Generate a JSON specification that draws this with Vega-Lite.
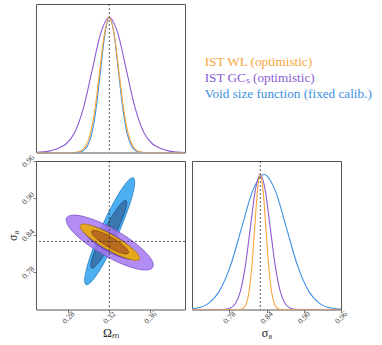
{
"$schema": "https://vega.github.io/schema/vega-lite/v6.json",
"background": "white",
"padding": {"left": 5, "top": 3, "right": 0, "bottom": 0},
"config": {
 "view": {"stroke": "#555", "strokeWidth": 1},
 "axis": {"labelFont": "Liberation Serif", "labelFontSize": 8, "labelAngle": -45, "labelAlign": "center", "labelBaseline": "middle", "labelColor": "#444", "labelPadding": 5, "labelFlush": false, "labelOverlap": false, "tickColor": "#555", "tickSize": 3, "tickWidth": 0.8, "domain": false, "grid": false, "titleFont": "Liberation Serif", "titleFontSize": 12, "titleFontWeight": "normal", "titleColor": "#222"},
 "axisX": {"titlePadding": 2},
 "axisY": {"titlePadding": 1}
},
"datasets": {
 "fid": [{"om": 0.32, "s8": 0.83}],
 "legend": [
  {"label": "IST WL (optimistic)", "rank": 0},
  {"label": "IST GCₛ (optimistic)", "rank": 1},
  {"label": "Void size function (fixed calib.)", "rank": 2}
 ],
 "ell": [
  {"g":"b2","i":0,"om":0.3434,"s8":0.9329},{"g":"b2","i":1,"om":0.3448,"s8":0.9241},{"g":"b2","i":2,"om":0.3424,"s8":0.9034},{"g":"b2","i":3,"om":0.3366,"s8":0.8742},{"g":"b2","i":4,"om":0.3284,"s8":0.8406},{"g":"b2","i":5,"om":0.3190,"s8":0.8079},{"g":"b2","i":6,"om":0.3098,"s8":0.7812},{"g":"b2","i":7,"om":0.3022,"s8":0.7644},{"g":"b2","i":8,"om":0.2974,"s8":0.7601},{"g":"b2","i":9,"om":0.2960,"s8":0.7689},{"g":"b2","i":10,"om":0.2984,"s8":0.7896},{"g":"b2","i":11,"om":0.3042,"s8":0.8189},{"g":"b2","i":12,"om":0.3124,"s8":0.8524},{"g":"b2","i":13,"om":0.3218,"s8":0.8851},{"g":"b2","i":14,"om":0.3310,"s8":0.9118},{"g":"b2","i":15,"om":0.3386,"s8":0.9286},
  {"g":"b1","i":0,"om":0.3362,"s8":0.8962},{"g":"b1","i":1,"om":0.3370,"s8":0.8904},{"g":"b1","i":2,"om":0.3350,"s8":0.8771},{"g":"b1","i":3,"om":0.3307,"s8":0.8584},{"g":"b1","i":4,"om":0.3247,"s8":0.8372},{"g":"b1","i":5,"om":0.3179,"s8":0.8166},{"g":"b1","i":6,"om":0.3114,"s8":0.7999},{"g":"b1","i":7,"om":0.3060,"s8":0.7895},{"g":"b1","i":8,"om":0.3028,"s8":0.7870},{"g":"b1","i":9,"om":0.3020,"s8":0.7928},{"g":"b1","i":10,"om":0.3040,"s8":0.8061},{"g":"b1","i":11,"om":0.3083,"s8":0.8248},{"g":"b1","i":12,"om":0.3143,"s8":0.8460},{"g":"b1","i":13,"om":0.3211,"s8":0.8666},{"g":"b1","i":14,"om":0.3277,"s8":0.8833},{"g":"b1","i":15,"om":0.3330,"s8":0.8937},
  {"g":"p2","i":0,"om":0.3624,"s8":0.7882},{"g":"p2","i":1,"om":0.3567,"s8":0.7839},{"g":"p2","i":2,"om":0.3454,"s8":0.7863},{"g":"p2","i":3,"om":0.3303,"s8":0.7951},{"g":"p2","i":4,"om":0.3138,"s8":0.8089},{"g":"p2","i":5,"om":0.2982,"s8":0.8257},{"g":"p2","i":6,"om":0.2860,"s8":0.8428},{"g":"p2","i":7,"om":0.2791,"s8":0.8578},{"g":"p2","i":8,"om":0.2784,"s8":0.8682},{"g":"p2","i":9,"om":0.2842,"s8":0.8725},{"g":"p2","i":10,"om":0.2954,"s8":0.8701},{"g":"p2","i":11,"om":0.3105,"s8":0.8613},{"g":"p2","i":12,"om":0.3270,"s8":0.8475},{"g":"p2","i":13,"om":0.3426,"s8":0.8307},{"g":"p2","i":14,"om":0.3548,"s8":0.8136},{"g":"p2","i":15,"om":0.3618,"s8":0.7986},
  {"g":"p1","i":0,"om":0.3463,"s8":0.8036},{"g":"p1","i":1,"om":0.3427,"s8":0.8009},{"g":"p1","i":2,"om":0.3358,"s8":0.8024},{"g":"p1","i":3,"om":0.3265,"s8":0.8078},{"g":"p1","i":4,"om":0.3163,"s8":0.8163},{"g":"p1","i":5,"om":0.3067,"s8":0.8267},{"g":"p1","i":6,"om":0.2992,"s8":0.8372},{"g":"p1","i":7,"om":0.2949,"s8":0.8464},{"g":"p1","i":8,"om":0.2945,"s8":0.8528},{"g":"p1","i":9,"om":0.2981,"s8":0.8555},{"g":"p1","i":10,"om":0.3050,"s8":0.8540},{"g":"p1","i":11,"om":0.3143,"s8":0.8486},{"g":"p1","i":12,"om":0.3245,"s8":0.8401},{"g":"p1","i":13,"om":0.3341,"s8":0.8297},{"g":"p1","i":14,"om":0.3416,"s8":0.8192},{"g":"p1","i":15,"om":0.3459,"s8":0.8100},
  {"g":"o2","i":0,"om":0.3494,"s8":0.8013},{"g":"o2","i":1,"om":0.3458,"s8":0.7993},{"g":"o2","i":2,"om":0.3384,"s8":0.8019},{"g":"o2","i":3,"om":0.3283,"s8":0.8085},{"g":"o2","i":4,"om":0.3170,"s8":0.8181},{"g":"o2","i":5,"om":0.3062,"s8":0.8295},{"g":"o2","i":6,"om":0.2977,"s8":0.8406},{"g":"o2","i":7,"om":0.2926,"s8":0.8500},{"g":"o2","i":8,"om":0.2918,"s8":0.8561},{"g":"o2","i":9,"om":0.2954,"s8":0.8581},{"g":"o2","i":10,"om":0.3028,"s8":0.8555},{"g":"o2","i":11,"om":0.3129,"s8":0.8490},{"g":"o2","i":12,"om":0.3242,"s8":0.8393},{"g":"o2","i":13,"om":0.3350,"s8":0.8280},{"g":"o2","i":14,"om":0.3435,"s8":0.8168},{"g":"o2","i":15,"om":0.3486,"s8":0.8074},
  {"g":"o1","i":0,"om":0.3386,"s8":0.8112},{"g":"o1","i":1,"om":0.3363,"s8":0.8098},{"g":"o1","i":2,"om":0.3316,"s8":0.8114},{"g":"o1","i":3,"om":0.3253,"s8":0.8156},{"g":"o1","i":4,"om":0.3182,"s8":0.8218},{"g":"o1","i":5,"om":0.3116,"s8":0.8291},{"g":"o1","i":6,"om":0.3063,"s8":0.8363},{"g":"o1","i":7,"om":0.3032,"s8":0.8424},{"g":"o1","i":8,"om":0.3028,"s8":0.8464},{"g":"o1","i":9,"om":0.3051,"s8":0.8478},{"g":"o1","i":10,"om":0.3098,"s8":0.8462},{"g":"o1","i":11,"om":0.3162,"s8":0.8420},{"g":"o1","i":12,"om":0.3232,"s8":0.8358},{"g":"o1","i":13,"om":0.3299,"s8":0.8285},{"g":"o1","i":14,"om":0.3351,"s8":0.8213},{"g":"o1","i":15,"om":0.3382,"s8":0.8152}
 ],
 "om1d": [
  {"s":"o","om":0.2485,"p":0},{"s":"o","om":0.2828,"p":0.0003},{"s":"o","om":0.28745,"p":0.0022},{"s":"o","om":0.2921,"p":0.0111},{"s":"o","om":0.29675,"p":0.0439},{"s":"o","om":0.3014,"p":0.1353},{"s":"o","om":0.30605,"p":0.3247},{"s":"o","om":0.3107,"p":0.6065},{"s":"o","om":0.31535,"p":0.8825},{"s":"o","om":0.3200,"p":1},{"s":"o","om":0.32465,"p":0.8825},{"s":"o","om":0.3293,"p":0.6065},{"s":"o","om":0.33395,"p":0.3247},{"s":"o","om":0.3386,"p":0.1353},{"s":"o","om":0.34325,"p":0.0439},{"s":"o","om":0.3479,"p":0.0111},{"s":"o","om":0.35255,"p":0.0022},{"s":"o","om":0.3572,"p":0.0003},{"s":"o","om":0.3939,"p":0},
  {"s":"b","om":0.2485,"p":0},{"s":"b","om":0.2854,"p":0.0003},{"s":"b","om":0.28975,"p":0.0022},{"s":"b","om":0.2941,"p":0.0111},{"s":"b","om":0.29845,"p":0.0439},{"s":"b","om":0.3028,"p":0.1353},{"s":"b","om":0.30715,"p":0.3247},{"s":"b","om":0.3115,"p":0.6065},{"s":"b","om":0.31585,"p":0.8825},{"s":"b","om":0.3202,"p":1},{"s":"b","om":0.32455,"p":0.8825},{"s":"b","om":0.3289,"p":0.6065},{"s":"b","om":0.33325,"p":0.3247},{"s":"b","om":0.3376,"p":0.1353},{"s":"b","om":0.34195,"p":0.0439},{"s":"b","om":0.3463,"p":0.0111},{"s":"b","om":0.35065,"p":0.0022},{"s":"b","om":0.355,"p":0.0003},{"s":"b","om":0.3939,"p":0},
  {"s":"p","om":0.2485,"p":0},{"s":"p","om":0.2528,"p":0.003},{"s":"p","om":0.2612,"p":0.01},{"s":"p","om":0.2696,"p":0.03},{"s":"p","om":0.2780,"p":0.065},{"s":"p","om":0.2864,"p":0.15},{"s":"p","om":0.2948,"p":0.33},{"s":"p","om":0.3032,"p":0.6065},{"s":"p","om":0.3116,"p":0.8825},{"s":"p","om":0.3200,"p":1},{"s":"p","om":0.3284,"p":0.8825},{"s":"p","om":0.3368,"p":0.6065},{"s":"p","om":0.3452,"p":0.33},{"s":"p","om":0.3536,"p":0.15},{"s":"p","om":0.3620,"p":0.065},{"s":"p","om":0.3704,"p":0.03},{"s":"p","om":0.3788,"p":0.01},{"s":"p","om":0.3872,"p":0.003},{"s":"p","om":0.3939,"p":0}
 ],
 "s81d": [
  {"s":"o","s8":0.72,"p":0},{"s":"o","s8":0.794,"p":0.0003},{"s":"o","s8":0.7985,"p":0.0022},{"s":"o","s8":0.803,"p":0.0111},{"s":"o","s8":0.8075,"p":0.0439},{"s":"o","s8":0.812,"p":0.1353},{"s":"o","s8":0.8165,"p":0.3247},{"s":"o","s8":0.821,"p":0.6065},{"s":"o","s8":0.8255,"p":0.8825},{"s":"o","s8":0.830,"p":1},{"s":"o","s8":0.8345,"p":0.8825},{"s":"o","s8":0.839,"p":0.6065},{"s":"o","s8":0.8435,"p":0.3247},{"s":"o","s8":0.848,"p":0.1353},{"s":"o","s8":0.8525,"p":0.0439},{"s":"o","s8":0.857,"p":0.0111},{"s":"o","s8":0.8615,"p":0.0022},{"s":"o","s8":0.866,"p":0.0003},{"s":"o","s8":0.96,"p":0},
  {"s":"p","s8":0.72,"p":0},{"s":"p","s8":0.766,"p":0.0003},{"s":"p","s8":0.774,"p":0.0022},{"s":"p","s8":0.782,"p":0.0111},{"s":"p","s8":0.790,"p":0.0439},{"s":"p","s8":0.798,"p":0.1353},{"s":"p","s8":0.806,"p":0.3247},{"s":"p","s8":0.814,"p":0.6065},{"s":"p","s8":0.822,"p":0.8825},{"s":"p","s8":0.830,"p":1},{"s":"p","s8":0.838,"p":0.8825},{"s":"p","s8":0.846,"p":0.6065},{"s":"p","s8":0.854,"p":0.3247},{"s":"p","s8":0.862,"p":0.1353},{"s":"p","s8":0.870,"p":0.0439},{"s":"p","s8":0.878,"p":0.0111},{"s":"p","s8":0.886,"p":0.0022},{"s":"p","s8":0.894,"p":0.0003},{"s":"p","s8":0.96,"p":0},
  {"s":"b","s8":0.692,"p":0.0003},{"s":"b","s8":0.710,"p":0.0022},{"s":"b","s8":0.728,"p":0.0111},{"s":"b","s8":0.746,"p":0.0439},{"s":"b","s8":0.764,"p":0.1353},{"s":"b","s8":0.782,"p":0.3247},{"s":"b","s8":0.800,"p":0.6065},{"s":"b","s8":0.818,"p":0.8825},{"s":"b","s8":0.836,"p":1},{"s":"b","s8":0.854,"p":0.8825},{"s":"b","s8":0.872,"p":0.6065},{"s":"b","s8":0.890,"p":0.3247},{"s":"b","s8":0.908,"p":0.1353},{"s":"b","s8":0.926,"p":0.0439},{"s":"b","s8":0.944,"p":0.0111},{"s":"b","s8":0.962,"p":0.0022},{"s":"b","s8":0.980,"p":0.0003}
 ]
},
"columns": 2,
"spacing": {"row": 8, "column": 7},
"bounds": "flush",
"align": "all",
"concat": [
 {
  "width": 149, "height": 148.5,
  "layer": [
   {"data": {"name": "om1d"}, "transform": [{"filter": "datum.s === 'b'"}], "mark": {"type": "line", "interpolate": "monotone", "clip": true, "stroke": "#3a8fe2", "strokeWidth": 1.1},
    "encoding": {"x": {"field": "om", "type": "quantitative", "scale": {"domain": [0.2485, 0.3939], "nice": false, "zero": false}, "axis": null}, "y": {"field": "p", "type": "quantitative", "scale": {"domain": [0, 1.1], "nice": false, "zero": false}, "axis": null}}},
   {"data": {"name": "om1d"}, "transform": [{"filter": "datum.s === 'p'"}], "mark": {"type": "line", "interpolate": "monotone", "clip": true, "stroke": "#8c5ad5", "strokeWidth": 1.1},
    "encoding": {"x": {"field": "om", "type": "quantitative", "scale": {"domain": [0.2485, 0.3939], "nice": false, "zero": false}, "axis": null}, "y": {"field": "p", "type": "quantitative", "scale": {"domain": [0, 1.1], "nice": false, "zero": false}, "axis": null}}},
   {"data": {"name": "om1d"}, "transform": [{"filter": "datum.s === 'o'"}], "mark": {"type": "line", "interpolate": "monotone", "clip": true, "stroke": "#f9a53a", "strokeWidth": 1.1},
    "encoding": {"x": {"field": "om", "type": "quantitative", "scale": {"domain": [0.2485, 0.3939], "nice": false, "zero": false}, "axis": null}, "y": {"field": "p", "type": "quantitative", "scale": {"domain": [0, 1.1], "nice": false, "zero": false}, "axis": null}}},
   {"data": {"name": "fid"}, "mark": {"type": "rule", "stroke": "#333", "strokeWidth": 0.8, "strokeDash": [2, 2]},
    "encoding": {"x": {"field": "om", "type": "quantitative", "scale": {"domain": [0.2485, 0.3939], "nice": false, "zero": false}, "axis": null}}}
  ]
 },
 {
  "width": 149, "height": 148.5,
  "view": {"stroke": null},
  "data": {"name": "legend"},
  "mark": {"type": "text", "align": "left", "baseline": "middle", "font": "Liberation Serif", "fontSize": 13.2},
  "encoding": {
   "x": {"datum": 0.085, "type": "quantitative", "scale": {"domain": [0, 1], "nice": false, "zero": false}, "axis": null},
   "y": {"field": "rank", "type": "quantitative", "scale": {"domain": [-3.7, 5.73], "reverse": true, "nice": false, "zero": false}, "axis": null},
   "text": {"field": "label"},
   "color": {"field": "label", "type": "nominal", "scale": {"domain": ["IST WL (optimistic)", "IST GCₛ (optimistic)", "Void size function (fixed calib.)"], "range": ["#f9a53a", "#8c5ad5", "#3a8fe2"]}, "legend": null}
  }
 },
 {
  "width": 149, "height": 148.5,
  "layer": [
   {"data": {"name": "ell"}, "transform": [{"filter": "datum.g === 'b2'"}], "mark": {"type": "line", "interpolate": "cardinal-closed", "clip": true, "fill": "#4caff2", "stroke": "#2a7fc0", "strokeWidth": 0.8},
    "encoding": {"x": {"field": "om", "type": "quantitative", "scale": {"domain": [0.2485, 0.3939], "nice": false, "zero": false}, "axis": {"values": [0.28, 0.32, 0.36], "format": ".2f", "title": "Ωₘ"}}, "y": {"field": "s8", "type": "quantitative", "scale": {"domain": [0.72, 0.96], "nice": false, "zero": false}, "axis": {"values": [0.78, 0.84, 0.90, 0.96], "format": ".2f", "title": "σ₈"}}, "order": {"field": "i", "type": "quantitative"}}},
   {"data": {"name": "ell"}, "transform": [{"filter": "datum.g === 'b1'"}], "mark": {"type": "line", "interpolate": "cardinal-closed", "clip": true, "fill": "#3a77b0", "stroke": "#1d4e80", "strokeWidth": 0.8},
    "encoding": {"x": {"field": "om", "type": "quantitative", "scale": {"domain": [0.2485, 0.3939], "nice": false, "zero": false}, "axis": {"values": [0.28, 0.32, 0.36], "format": ".2f", "title": "Ωₘ"}}, "y": {"field": "s8", "type": "quantitative", "scale": {"domain": [0.72, 0.96], "nice": false, "zero": false}, "axis": {"values": [0.78, 0.84, 0.90, 0.96], "format": ".2f", "title": "σ₈"}}, "order": {"field": "i", "type": "quantitative"}}},
   {"data": {"name": "ell"}, "transform": [{"filter": "datum.g === 'p2'"}], "mark": {"type": "line", "interpolate": "cardinal-closed", "clip": true, "fill": "#a678f2", "fillOpacity": 0.85, "stroke": "#7a4fcc", "strokeWidth": 0.8},
    "encoding": {"x": {"field": "om", "type": "quantitative", "scale": {"domain": [0.2485, 0.3939], "nice": false, "zero": false}, "axis": {"values": [0.28, 0.32, 0.36], "format": ".2f", "title": "Ωₘ"}}, "y": {"field": "s8", "type": "quantitative", "scale": {"domain": [0.72, 0.96], "nice": false, "zero": false}, "axis": {"values": [0.78, 0.84, 0.90, 0.96], "format": ".2f", "title": "σ₈"}}, "order": {"field": "i", "type": "quantitative"}}},
   {"data": {"name": "ell"}, "transform": [{"filter": "datum.g === 'p1'"}], "mark": {"type": "line", "interpolate": "cardinal-closed", "clip": true, "fill": "#7c50cf", "fillOpacity": 0.75, "stroke": "#5a34a8", "strokeWidth": 0.8},
    "encoding": {"x": {"field": "om", "type": "quantitative", "scale": {"domain": [0.2485, 0.3939], "nice": false, "zero": false}, "axis": {"values": [0.28, 0.32, 0.36], "format": ".2f", "title": "Ωₘ"}}, "y": {"field": "s8", "type": "quantitative", "scale": {"domain": [0.72, 0.96], "nice": false, "zero": false}, "axis": {"values": [0.78, 0.84, 0.90, 0.96], "format": ".2f", "title": "σ₈"}}, "order": {"field": "i", "type": "quantitative"}}},
   {"data": {"name": "ell"}, "transform": [{"filter": "datum.g === 'o2'"}], "mark": {"type": "line", "interpolate": "cardinal-closed", "clip": true, "fill": "#e6a81e", "stroke": "#b07810", "strokeWidth": 0.8},
    "encoding": {"x": {"field": "om", "type": "quantitative", "scale": {"domain": [0.2485, 0.3939], "nice": false, "zero": false}, "axis": {"values": [0.28, 0.32, 0.36], "format": ".2f", "title": "Ωₘ"}}, "y": {"field": "s8", "type": "quantitative", "scale": {"domain": [0.72, 0.96], "nice": false, "zero": false}, "axis": {"values": [0.78, 0.84, 0.90, 0.96], "format": ".2f", "title": "σ₈"}}, "order": {"field": "i", "type": "quantitative"}}},
   {"data": {"name": "ell"}, "transform": [{"filter": "datum.g === 'o1'"}], "mark": {"type": "line", "interpolate": "cardinal-closed", "clip": true, "fill": "#b86a1e", "stroke": "#8a4a10", "strokeWidth": 0.8},
    "encoding": {"x": {"field": "om", "type": "quantitative", "scale": {"domain": [0.2485, 0.3939], "nice": false, "zero": false}, "axis": {"values": [0.28, 0.32, 0.36], "format": ".2f", "title": "Ωₘ"}}, "y": {"field": "s8", "type": "quantitative", "scale": {"domain": [0.72, 0.96], "nice": false, "zero": false}, "axis": {"values": [0.78, 0.84, 0.90, 0.96], "format": ".2f", "title": "σ₈"}}, "order": {"field": "i", "type": "quantitative"}}},
   {"data": {"name": "fid"}, "mark": {"type": "rule", "stroke": "#333", "strokeWidth": 0.8, "strokeDash": [2, 2]},
    "encoding": {"x": {"field": "om", "type": "quantitative", "scale": {"domain": [0.2485, 0.3939], "nice": false, "zero": false}, "axis": {"values": [0.28, 0.32, 0.36], "format": ".2f", "title": "Ωₘ"}}}},
   {"data": {"name": "fid"}, "mark": {"type": "rule", "stroke": "#333", "strokeWidth": 0.8, "strokeDash": [2, 2]},
    "encoding": {"y": {"field": "s8", "type": "quantitative", "scale": {"domain": [0.72, 0.96], "nice": false, "zero": false}, "axis": {"values": [0.78, 0.84, 0.90, 0.96], "format": ".2f", "title": "σ₈"}}}}
  ]
 },
 {
  "width": 149, "height": 148.5,
  "layer": [
   {"data": {"name": "s81d"}, "transform": [{"filter": "datum.s === 'b'"}], "mark": {"type": "line", "interpolate": "monotone", "clip": true, "stroke": "#3a8fe2", "strokeWidth": 1.1},
    "encoding": {"x": {"field": "s8", "type": "quantitative", "scale": {"domain": [0.72, 0.96], "nice": false, "zero": false}, "axis": {"values": [0.78, 0.84, 0.90, 0.96], "format": ".2f", "title": "σ₈"}}, "y": {"field": "p", "type": "quantitative", "scale": {"domain": [0, 1.1], "nice": false, "zero": false}, "axis": null}}},
   {"data": {"name": "s81d"}, "transform": [{"filter": "datum.s === 'p'"}], "mark": {"type": "line", "interpolate": "monotone", "clip": true, "stroke": "#8c5ad5", "strokeWidth": 1.1},
    "encoding": {"x": {"field": "s8", "type": "quantitative", "scale": {"domain": [0.72, 0.96], "nice": false, "zero": false}, "axis": {"values": [0.78, 0.84, 0.90, 0.96], "format": ".2f", "title": "σ₈"}}, "y": {"field": "p", "type": "quantitative", "scale": {"domain": [0, 1.1], "nice": false, "zero": false}, "axis": null}}},
   {"data": {"name": "s81d"}, "transform": [{"filter": "datum.s === 'o'"}], "mark": {"type": "line", "interpolate": "monotone", "clip": true, "stroke": "#f9a53a", "strokeWidth": 1.1},
    "encoding": {"x": {"field": "s8", "type": "quantitative", "scale": {"domain": [0.72, 0.96], "nice": false, "zero": false}, "axis": {"values": [0.78, 0.84, 0.90, 0.96], "format": ".2f", "title": "σ₈"}}, "y": {"field": "p", "type": "quantitative", "scale": {"domain": [0, 1.1], "nice": false, "zero": false}, "axis": null}}},
   {"data": {"name": "fid"}, "mark": {"type": "rule", "stroke": "#333", "strokeWidth": 0.8, "strokeDash": [2, 2]},
    "encoding": {"x": {"field": "s8", "type": "quantitative", "scale": {"domain": [0.72, 0.96], "nice": false, "zero": false}, "axis": {"values": [0.78, 0.84, 0.90, 0.96], "format": ".2f", "title": "σ₈"}}}}
  ]
 }
]
}
